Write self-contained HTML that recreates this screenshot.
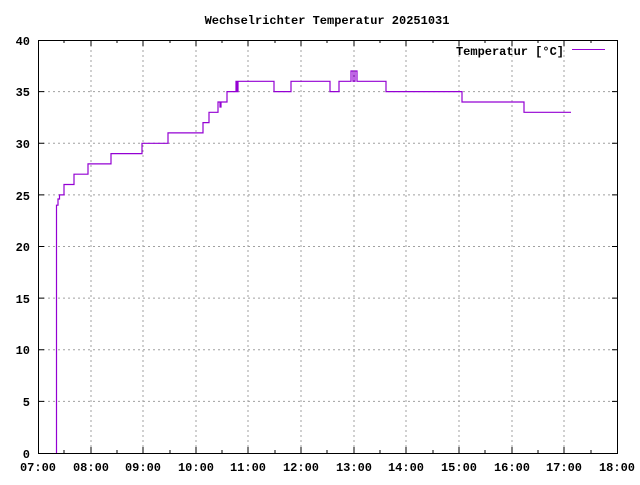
<!DOCTYPE html>
<html><head><style>body{margin:0;background:#fff}</style></head><body>
<svg width="640" height="480" xmlns="http://www.w3.org/2000/svg" font-family="Liberation Mono, monospace" font-size="12" font-weight="bold">
<rect width="640" height="480" fill="#fff"/>
<g stroke="#a0a0a0" stroke-dasharray="2,3" stroke-width="1">
<path d="M91,40V453M143,40V453M196,40V453M248,40V453M301,40V453M354,40V453M406,40V453M459,40V453M512,40V453M564,40V453"/>
<path d="M38,401.4H618M38,349.8H618M38,298.1H618M38,246.5H618M38,194.9H618M38,143.3H618M38,91.6H618"/>
</g>
<g stroke="#000" stroke-width="1">
<rect x="38.5" y="40.5" width="579" height="413" fill="none"/>
<path d="M38,401.4h6M38,349.8h6M38,298.1h6M38,246.5h6M38,194.9h6M38,143.3h6M38,91.6h6M618,401.4h-6M618,349.8h-6M618,298.1h-6M618,246.5h-6M618,194.9h-6M618,143.3h-6M618,91.6h-6"/>
<path d="M91,453v-6M143,453v-6M196,453v-6M248,453v-6M301,453v-6M354,453v-6M406,453v-6M459,453v-6M512,453v-6M564,453v-6M91,40v6M143,40v6M196,40v6M248,40v6M301,40v6M354,40v6M406,40v6M459,40v6M512,40v6M564,40v6"/>
<path d="M64,453v-3M117,453v-3M170,453v-3M222,453v-3M275,453v-3M327,453v-3M380,453v-3M433,453v-3M485,453v-3M538,453v-3M591,453v-3M64,40v3M117,40v3M170,40v3M222,40v3M275,40v3M327,40v3M380,40v3M433,40v3M485,40v3M538,40v3M591,40v3"/>
</g>
<g text-anchor="end">
<text x="30" y="458">0</text><text x="30" y="406">5</text><text x="30" y="354">10</text><text x="30" y="303">15</text><text x="30" y="251">20</text><text x="30" y="200">25</text><text x="30" y="148">30</text><text x="30" y="96">35</text><text x="30" y="45">40</text>
</g>
<g text-anchor="middle">
<text x="38" y="471">07:00</text><text x="91" y="471">08:00</text><text x="143" y="471">09:00</text><text x="196" y="471">10:00</text><text x="248" y="471">11:00</text><text x="301" y="471">12:00</text><text x="354" y="471">13:00</text><text x="406" y="471">14:00</text><text x="459" y="471">15:00</text><text x="512" y="471">16:00</text><text x="564" y="471">17:00</text><text x="617" y="471">18:00</text>
<text x="327" y="24">Wechselrichter Temperatur 20251031</text>
</g>
<text x="564" y="55" text-anchor="end">Temperatur [°C]</text>
<path d="M572,49.5H605" stroke="#9400d3" stroke-width="1"/>
<path fill="none" stroke="#9400d3" stroke-width="1.2" d="M56.5,453V205.2H58V199H59.5V194.9H64V184.5H74V174.2H88V163.9H111V153.6H142V143.3H168V132.9H203V122.6H209V112.3H218V102H220V107H221V102H227V91.6H236V81.3H237V91.6H238V81.3H274V91.6H291V81.3H330V91.6H339V81.3H351V71H353V81.3H355V71H357V81.3H386V91.6H462V102H524V112.3H571"/>
</svg>
</body></html>
